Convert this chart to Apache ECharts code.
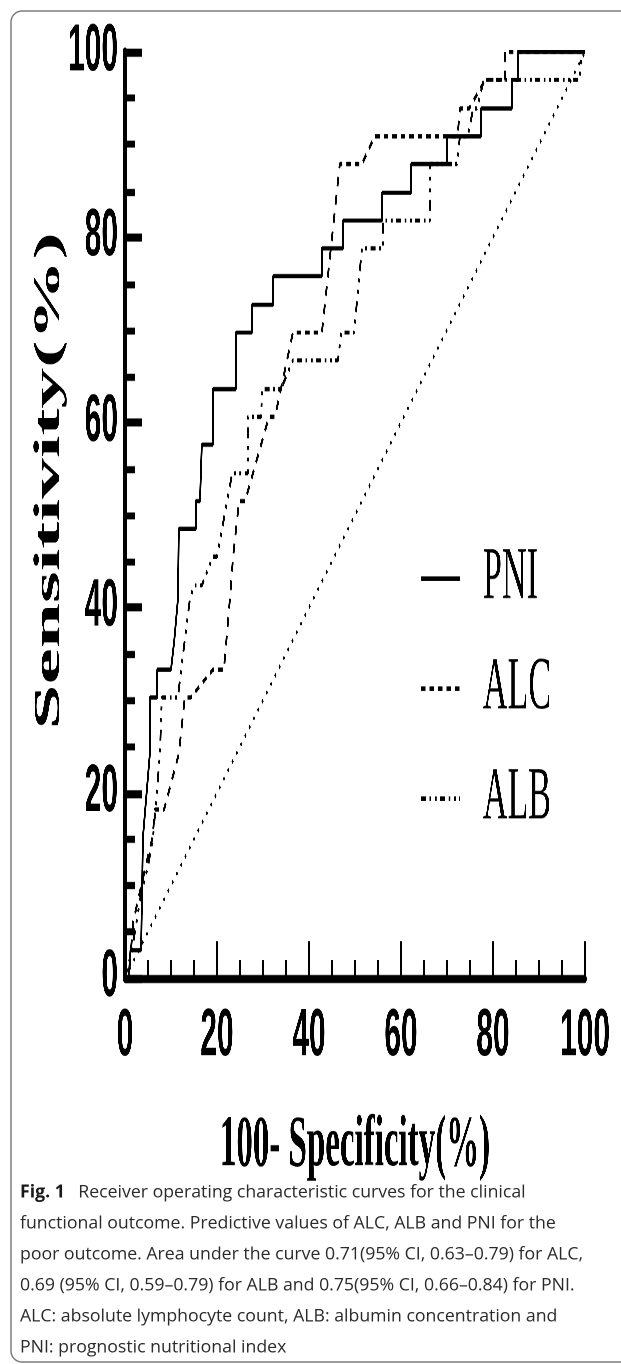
<!DOCTYPE html>
<html><head><meta charset="utf-8">
<script src="https://cdn.jsdelivr.net/npm/echarts@6/dist/echarts.min.js"></script>
<style>
html,body{margin:0;padding:0;background:#fff;}
#page{position:relative;width:621px;height:1364px;overflow:hidden;}
#frame{position:absolute;left:0;top:0;width:621px;height:1364px;}
#plot{position:absolute;left:0;top:0;width:621px;transform-origin:0 0;}
</style></head><body>
<div id="page"><div id="frame"></div><div id="plot"></div></div>
<script>
// ---- data (x = 100 - specificity %, y = sensitivity %) ----
const pni = [[0,0],[0.8,0],[1.2,3.0],[3.5,3.0],[3.6,6.1],[3.9,15.2],[4.4,18.2],[5.4,24.2],[5.4,30.3],[7.0,30.3],[7.0,33.3],[10.0,33.3],[10.7,36.4],[11.5,40.9],[11.7,48.5],[15.4,48.5],[15.4,51.5],[16.3,51.5],[16.7,57.6],[19.1,57.6],[19.1,63.6],[24.1,63.6],[24.1,69.7],[27.6,69.7],[27.6,72.7],[32.2,72.7],[32.2,75.8],[42.8,75.8],[42.8,78.8],[47.4,78.8],[47.4,81.8],[55.9,81.8],[55.9,84.8],[62.2,84.8],[62.2,87.9],[70.0,87.9],[70.0,90.9],[77.4,90.9],[77.4,93.9],[84.1,93.9],[84.1,97.0],[85.4,97.0],[85.4,100],[100,100]];
const alc = [[0,0],[0.8,0],[1.8,6.1],[4.5,12.1],[6.0,15.2],[6.5,18.2],[8.5,18.2],[11.7,24.2],[13.0,30.3],[14.3,30.3],[19.1,33.3],[21.5,33.3],[22.8,40.9],[23.5,45.5],[24.8,51.5],[26.1,51.5],[31.3,60.6],[32.6,60.6],[36.5,69.7],[42.8,69.7],[46.7,87.9],[51.5,87.9],[54.3,90.9],[72.3,90.9],[72.8,93.9],[74.8,93.9],[78.3,97.0],[82.6,97.0],[82.6,100],[100,100]];
const alb = [[0,0],[1.5,3.0],[3.5,9.1],[5.0,12.1],[6.1,15.2],[6.6,18.2],[7.6,24.2],[8.0,30.3],[11.5,30.3],[12.2,33.3],[14.1,40.9],[15.0,42.4],[16.7,42.4],[19.1,45.5],[20.0,45.5],[23.3,54.5],[26.7,54.5],[26.7,60.6],[29.6,60.6],[29.8,63.6],[33.9,63.6],[36.5,66.7],[46.3,66.7],[47.0,69.7],[49.8,69.7],[51.5,78.8],[56.1,78.8],[56.1,81.8],[66.3,81.8],[66.3,87.9],[72.2,87.9],[72.8,90.9],[74.5,90.9],[75.7,93.9],[76.5,93.9],[78.0,97.0],[98.9,97.0],[99.2,100],[100,100]];
const refLine = [[0,0],[100,100]];
const seriesNames = ['PNI','ALC','ALB'];
const xTitle = '100- Specificity(%)';
const yTitle = 'Sensitivity(%)';
const captionLines = [
  '{b|Fig. 1}\u2002 Receiver operating characteristic curves for the clinical',
  'functional outcome. Predictive values of ALC, ALB and PNI for the',
  'poor outcome. Area under the curve 0.71(95% CI, 0.63\u20130.79) for ALC,',
  '0.69 (95% CI, 0.59\u20130.79) for ALB and 0.75(95% CI, 0.66\u20130.84) for PNI.',
  'ALC: absolute lymphocyte count, ALB: albumin concentration and',
  'PNI: prognostic nutritional index'
];

// ---- the plot is drawn then stretched vertically like the original figure ----
const S = 2.2;
const H = 545;
const plotEl = document.getElementById('plot');
plotEl.style.height = H + 'px';
plotEl.style.transform = 'scaleY(' + S + ')';

const sansB = "'Liberation Sans', Arial, sans-serif";
const serif = "'Liberation Serif', 'Times New Roman', serif";

const plot = echarts.init(plotEl, null, {renderer:'canvas', devicePixelRatio:3});
plot.setOption({
  animation:false,
  backgroundColor:'transparent',
  grid:{left:125, right:36, top:52/S, bottom:H-978/S, outerBoundsMode:'none'},
  legend:{
    orient:'vertical', left:420, top:246, padding:0,
    itemWidth:39, itemHeight:14, itemGap:16, selectedMode:false,
    data:seriesNames,
    itemStyle:{opacity:0, borderWidth:0},
    textStyle:{fontFamily:serif, fontSize:34, color:'#000', padding:[0,0,0,18]}
  },
  xAxis:{
    type:'value', min:0, max:100, interval:20,
    axisLine:{show:true, onZero:false, lineStyle:{color:'#000', width:3.6}},
    axisTick:{show:true, inside:true, length:16.8, lineStyle:{color:'#000', width:2.4}},
    minorTick:{show:true, splitNumber:4, length:8.2, lineStyle:{color:'#000', width:2.4}},
    splitLine:{show:false}, minorSplitLine:{show:false},
    axisLabel:{color:'#000', fontFamily:sansB, fontWeight:'bold', fontSize:30, margin:12, showMinLabel:true, showMaxLabel:true},
    name:xTitle, nameLocation:'middle', nameGap:60, nameMoveOverlap:false,
    nameTextStyle:{fontFamily:serif, fontWeight:'bold', fontSize:33, color:'#000'}
  },
  yAxis:{
    type:'value', min:0, max:100, interval:20,
    axisLine:{show:true, onZero:false, lineStyle:{color:'#000', width:4.3}},
    axisTick:{show:true, inside:true, length:17, lineStyle:{color:'#000', width:3.6}},
    minorTick:{show:true, splitNumber:4, length:10, lineStyle:{color:'#000', width:3.2}},
    splitLine:{show:false}, minorSplitLine:{show:false},
    axisLabel:{color:'#000', fontFamily:sansB, fontWeight:'bold', fontSize:30, margin:7, showMinLabel:true, showMaxLabel:true},
    name:yTitle, nameLocation:'middle', nameGap:57, nameRotate:90, nameMoveOverlap:false,
    nameTextStyle:{fontFamily:serif, fontWeight:'bold', fontSize:37, color:'#000', padding:[0,0,0,31]}
  },
  series:[
    {type:'line', name:seriesNames[0], data:pni, symbol:'none', silent:true, z:5,
     itemStyle:{color:'#000'}, lineStyle:{color:'#000', width:1.9, type:'solid'}},
    {type:'line', name:seriesNames[1], data:alc, symbol:'none', silent:true, z:4,
     itemStyle:{color:'#000'}, lineStyle:{color:'#000', width:1.9, type:[4.5,4]}},
    {type:'line', name:seriesNames[2], data:alb, symbol:'none', silent:true, z:4,
     itemStyle:{color:'#000'}, lineStyle:{color:'#000', width:1.9, type:[5,3.5,1.8,3.5,1.8,3.5]}},
    {type:'line', name:'Reference', data:refLine, symbol:'none', silent:true, z:3,
     itemStyle:{color:'#000'}, lineStyle:{color:'#000', width:1.6, type:[1.6,4.2]}}
  ]
});

// ---- frame and caption (not stretched) ----
const frame = echarts.init(document.getElementById('frame'), null, {renderer:'canvas', devicePixelRatio:2});
const capFont = "'Open Sans', 'Noto Sans', sans-serif";
frame.setOption({
  animation:false,
  backgroundColor:'#fff',
  graphic:[
    {type:'rect', silent:true, shape:{x:11, y:11, width:660, height:1351, r:11},
     style:{fill:'none', stroke:'#7d7d7d', lineWidth:1.5}},
    {type:'text', silent:true, x:20, y:1177,
     style:{text:captionLines.join('\n'), fontFamily:capFont, fontSize:17.7, lineHeight:31, fill:'#2a2a2a',
       rich:{b:{fontFamily:capFont, fontSize:17.7, lineHeight:31, fontWeight:'bold', fill:'#1a1a1a'}}}}
  ]
});
</script></body></html>
